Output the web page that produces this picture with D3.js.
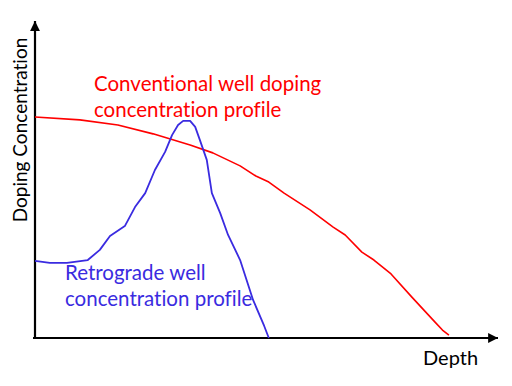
<!DOCTYPE html>
<html>
<head>
<meta charset="utf-8">
<script src="https://cdn.jsdelivr.net/npm/d3@7"></script>
<style>
	body { margin: 0; background: #fff; }
	svg { display: block; font-family: Lato, "Open Sans", sans-serif; font-variant-ligatures: none; }
</style>
</head>
<body>
<svg></svg>
<script>
// depth (0-100) and concentration (0-100)
const convDepth = [0, 9.7, 17.9, 25.5, 33.5, 38.4, 44.3, 47.7, 50.5, 53.8, 59.4, 64.4, 67.0, 70.6, 73.2, 76.9, 81.4, 86.4, 88.0, 89.4];
const convConc  = [69.7, 68.8, 67.2, 64.4, 60.9, 58.4, 54.3, 51.1, 49.2, 45.7, 40.4, 35.0, 32.5, 27.1, 24.6, 20.2, 12.9, 5.0, 2.5, 0.9];

const retroDepth = [0, 3.2, 6.9, 11.4, 14.0, 16.2, 19.4, 21.6, 23.8, 25.9, 28.1, 29.6, 30.9, 32.0, 33.5, 34.6, 35.6, 37.1, 38.2, 40.0, 41.7, 44.3, 47.1, 49.5, 50.5];
const retroConc  = [24.3, 23.7, 23.7, 24.6, 27.8, 32.2, 35.3, 41.3, 45.7, 53.0, 58.7, 64.0, 67.2, 68.5, 68.5, 66.6, 62.5, 56.2, 45.7, 39.4, 32.5, 24.6, 12.0, 3.8, 0];

const width = 512;
const height = 386;

const svg = d3.select('svg')
	.attr('width', width)
	.attr('height', height);

const x = d3.scaleLinear().domain([0, 100]).range([35, 498]);
const y = d3.scaleLinear().domain([0, 100]).range([338, 21]);

const defs = svg.append('defs');
defs.append('marker')
	.attr('id', 'arrow')
	.attr('viewBox', '0 0 10 10')
	.attr('refX', 10)
	.attr('refY', 5)
	.attr('markerWidth', 5)
	.attr('markerHeight', 4.5)
	.attr('markerUnits', 'strokeWidth')
	.attr('orient', 'auto')
	.append('path')
		.attr('d', 'M0,0L10,5L0,10Z')
		.attr('fill', '#000');

// axes
svg.append('line')
	.attr('x1', x(0)).attr('y1', y(0) + 1)
	.attr('x2', x(0)).attr('y2', y(100))
	.attr('stroke', '#000')
	.attr('stroke-width', 2.2)
	.attr('marker-end', 'url(#arrow)');

svg.append('line')
	.attr('x1', x(0) - 2).attr('y1', y(0))
	.attr('x2', x(100)).attr('y2', y(0))
	.attr('stroke', '#000')
	.attr('stroke-width', 2.2)
	.attr('marker-end', 'url(#arrow)');

const line = d3.line()
	.x(d => x(d[0]))
	.y(d => y(d[1]));

const conv = convDepth.map((d, i) => [d, convConc[i]]);
const retro = retroDepth.map((d, i) => [d, retroConc[i]]);

svg.append('path')
	.datum(conv)
	.attr('d', line)
	.attr('fill', 'none')
	.attr('stroke', '#ff0000')
	.attr('stroke-width', 1.6)
	.attr('stroke-linejoin', 'round');

svg.append('path')
	.datum(retro)
	.attr('d', line)
	.attr('fill', 'none')
	.attr('stroke', '#3a2be0')
	.attr('stroke-width', 1.8)
	.attr('stroke-linejoin', 'round');

// labels
const red = svg.append('text')
	.attr('fill', '#ff0000')
	.attr('font-size', 20.5);
red.append('tspan').attr('x', 94).attr('y', 91).text('Conventional well doping');
red.append('tspan').attr('x', 94).attr('y', 117).text('concentration profile');

const blue = svg.append('text')
	.attr('fill', '#3a2be0')
	.attr('font-size', 20.5);
blue.append('tspan').attr('x', 65).attr('y', 280).text('Retrograde well');
blue.append('tspan').attr('x', 65).attr('y', 306).text('concentration profile');

svg.append('text')
	.attr('x', 423)
	.attr('y', 365)
	.attr('font-size', 20)
	.attr('fill', '#000')
	.text('Depth');

svg.append('text')
	.attr('transform', 'translate(27,130) rotate(-90)')
	.attr('text-anchor', 'middle')
	.attr('font-size', 19)
	.attr('fill', '#000')
	.text('Doping Concentration');
</script>
</body>
</html>
